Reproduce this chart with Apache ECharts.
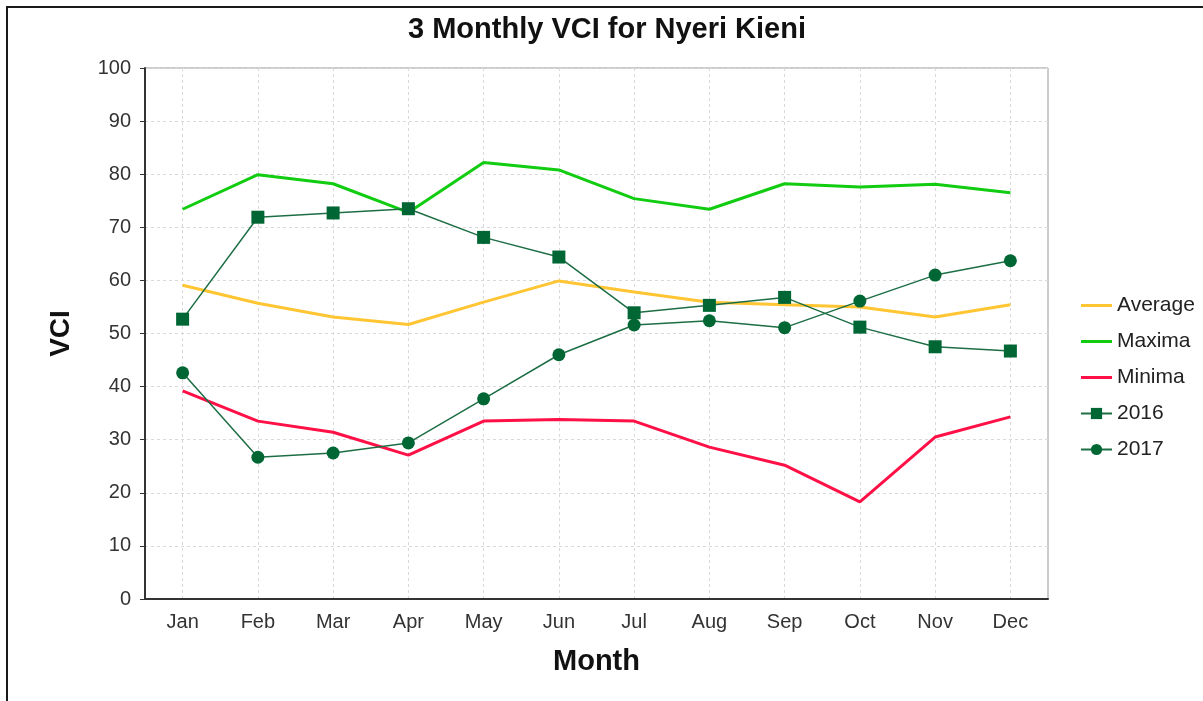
<!DOCTYPE html>
<html>
<head>
<meta charset="utf-8">
<title>3 Monthly VCI for Nyeri Kieni</title>
<script src="https://cdn.jsdelivr.net/npm/echarts@6/dist/echarts.min.js"></script>
<style>
  html, body { margin: 0; padding: 0; background: #fff; }
  #wrap { position: relative; width: 1203px; height: 701px; overflow: hidden; }
  #vciMain { width: 1203px; height: 701px; }
  /* outer frame (top and left edge of the original panel) */
  #frame {
    position: absolute; left: 6px; top: 6px; width: 1300px; height: 800px;
    border-top: 2px solid #1a1a1a; border-left: 2px solid #1a1a1a;
    pointer-events: none;
  }
</style>
</head>
<body>
<div id="wrap">
  <div id="vciMain"></div>
  <div id="frame"></div>
</div>
<script>
// months on the x axis
const months = ["Jan", "Feb", "Mar", "Apr", "May", "Jun", "Jul", "Aug", "Sep", "Oct", "Nov", "Dec"];

// long-term stats
const average = [59.1, 55.7, 53.1, 51.7, 55.9, 59.9, 57.8, 55.9, 55.4, 55.0, 53.1, 55.4];
const maxima = [73.4, 79.9, 78.2, 72.8, 82.2, 80.8, 75.4, 73.4, 78.2, 77.6, 78.1, 76.5];
const minima = [39.2, 33.5, 31.4, 27.1, 33.5, 33.8, 33.5, 28.6, 25.2, 18.3, 30.5, 34.3];

// yearly values
const y2016 = [52.7, 71.9, 72.7, 73.5, 68.1, 64.4, 53.9, 55.3, 56.8, 51.2, 47.5, 46.7];
const y2017 = [42.6, 26.7, 27.5, 29.4, 37.7, 46.0, 51.6, 52.4, 51.1, 56.1, 61.0, 63.7];

let myChart = echarts.init(document.getElementById("vciMain"));

const fontName = "Liberation Sans, Arial, sans-serif";
const darkGreen = "#006633";
// plain line icon for the stat series (no marker in the legend)
const lineIcon = "path://M0,0L31,0L31,3L0,3Z";

myChart.setOption({
  animation: false,
  backgroundColor: "#fff",
  title: {
    text: "3 Monthly VCI for Nyeri Kieni",
    left: 403,
    top: 10,
    textStyle: {
      color: "#111",
      fontSize: 29,
      fontWeight: "bold",
      fontFamily: fontName,
    },
  },
  grid: {
    left: 145,
    right: 155,
    top: 68,
    bottom: 102,
    show: true,
    backgroundColor: "#fff",
    borderColor: "#999",
    borderWidth: 1,
  },
  legend: {
    orient: "vertical",
    left: 1075,
    top: 290,
    itemWidth: 31,
    itemHeight: 14,
    itemGap: 15,
    data: [
      { name: "Average", icon: lineIcon },
      { name: "Maxima", icon: lineIcon },
      { name: "Minima", icon: lineIcon },
      "2016",
      "2017",
    ],
    textStyle: {
      color: "#222",
      fontSize: 21,
      fontFamily: fontName,
    },
  },
  xAxis: {
    type: "category",
    data: months,
    boundaryGap: true,
    name: "Month",
    nameLocation: "middle",
    nameGap: 48,
    nameTextStyle: {
      color: "#111",
      fontSize: 29,
      fontWeight: "bold",
      fontFamily: fontName,
    },
    axisLine: { lineStyle: { color: "#333", width: 2 } },
    axisTick: { alignWithLabel: true, length: 5, lineStyle: { color: "#333" } },
    axisLabel: {
      margin: 13,
      color: "#333",
      fontSize: 20,
      fontFamily: fontName,
    },
    splitLine: {
      show: true,
      alignWithLabel: true,
      lineStyle: { color: "#d9d9d9", type: [3, 3], width: 1 },
    },
  },
  yAxis: {
    type: "value",
    min: 0,
    max: 100,
    interval: 10,
    name: "VCI",
    nameLocation: "middle",
    nameGap: 70,
    nameRotate: 90,
    nameTextStyle: {
      color: "#111",
      fontSize: 28,
      fontWeight: "bold",
      fontFamily: fontName,
    },
    axisLine: { show: true, lineStyle: { color: "#333", width: 2 } },
    axisTick: { show: true, length: 5, lineStyle: { color: "#333" } },
    axisLabel: {
      margin: 14,
      color: "#333",
      fontSize: 20,
      fontFamily: fontName,
    },
    splitLine: {
      lineStyle: { color: "#d9d9d9", type: [3, 3], width: 1 },
    },
  },
  series: [
    {
      name: "Average",
      type: "line",
      data: average,
      symbol: "none",
      color: "#ffc533",
      lineStyle: { width: 3, color: "#ffc533" },
    },
    {
      name: "Maxima",
      type: "line",
      data: maxima,
      symbol: "none",
      color: "#11cc11",
      lineStyle: { width: 3, color: "#11cc11" },
    },
    {
      name: "Minima",
      type: "line",
      data: minima,
      symbol: "none",
      color: "#ff1046",
      lineStyle: { width: 3, color: "#ff1046" },
    },
    {
      name: "2016",
      type: "line",
      data: y2016,
      symbol: "rect",
      symbolSize: 13,
      color: darkGreen,
      itemStyle: { color: darkGreen },
      lineStyle: { width: 1.5, color: "#1d6e45" },
    },
    {
      name: "2017",
      type: "line",
      data: y2017,
      symbol: "circle",
      symbolSize: 13,
      color: darkGreen,
      itemStyle: { color: darkGreen },
      lineStyle: { width: 1.5, color: "#1d6e45" },
    },
  ],
});
</script>
</body>
</html>
